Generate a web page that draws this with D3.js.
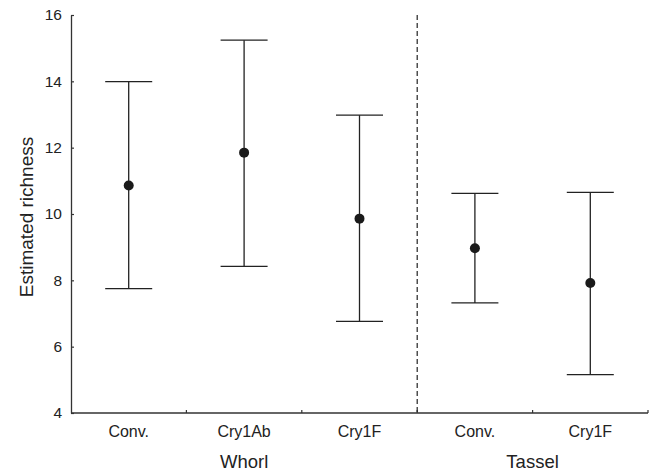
<!DOCTYPE html>
<html><head><meta charset="utf-8">
<script src="https://cdn.jsdelivr.net/npm/d3@7"></script>
<style>body{margin:0;background:#fff}</style>
</head><body>
<svg id="c" width="660" height="473"></svg>
<script>
const categories = ["Conv.", "Cry1Ab", "Cry1F", "Conv.", "Cry1F"];
const groups = ["Whorl", "Whorl", "Whorl", "Tassel", "Tassel"];
const means = [10.86, 11.85, 9.86, 8.97, 7.92];
const upper = [13.99, 15.24, 12.98, 10.62, 10.65];
const lower = [7.75, 8.42, 6.76, 7.32, 5.16];
const yTicks = [4, 6, 8, 10, 12, 14, 16];

const svg = d3.select("#c");
const m = {left: 71, right: 648, top: 15, bottom: 413};
const font = "Liberation Sans, Arial, Helvetica, sans-serif";
const ids = categories.map((d, i) => i);
const x = d3.scaleBand().domain(ids).range([m.left, m.right]);
const y = d3.scaleLinear().domain([4, 16]).range([m.bottom, m.top]);
const ink = "#222";

// y axis
const ya = svg.append("g").attr("transform", `translate(${m.left},0)`)
  .call(d3.axisLeft(y).tickValues(yTicks).tickSizeInner(-3).tickSizeOuter(0).tickPadding(9));
ya.select(".domain").attr("stroke", "#333").attr("stroke-width", 1.3);
ya.selectAll(".tick line").attr("stroke", "#333").attr("stroke-width", 1.2);
ya.selectAll("text").attr("font-family", font).attr("font-size", 15.5).attr("fill", ink);

// x axis with boundary ticks
const xa = svg.append("g").attr("transform", `translate(0,${m.bottom})`);
xa.append("line").attr("x1", m.left).attr("x2", m.right).attr("stroke", "#333").attr("stroke-width", 1.3);
const bounds = ids.slice(1).map(i => x(i)).concat([m.right]);
xa.selectAll(".bt").data(bounds).join("line")
  .attr("x1", d => d).attr("x2", d => d).attr("y1", 0).attr("y2", -3)
  .attr("stroke", "#333").attr("stroke-width", 1.2);
xa.selectAll(".cl").data(ids).join("text")
  .attr("x", i => x(i) + x.bandwidth() / 2).attr("y", 24)
  .attr("text-anchor", "middle").attr("font-family", font).attr("font-size", 16)
  .attr("fill", ink).text(i => categories[i]);

// group labels
const gnames = Array.from(new Set(groups));
gnames.forEach(g => {
  const idx = ids.filter(i => groups[i] === g);
  const cx = (x(idx[0]) + x(idx[idx.length - 1]) + x.bandwidth()) / 2;
  svg.append("text").attr("x", cx).attr("y", 467.5).attr("text-anchor", "middle")
    .attr("font-family", font).attr("font-size", 18.5).attr("fill", ink).text(g);
});

// y label
svg.append("text").attr("transform", `translate(33,217) rotate(-90)`)
  .attr("text-anchor", "middle").attr("font-family", font).attr("font-size", 19)
  .attr("fill", ink).text("Estimated richness");

// dashed separator
const sepI = ids.find(i => i > 0 && groups[i] !== groups[i - 1]);
svg.append("line").attr("x1", x(sepI)).attr("x2", x(sepI)).attr("y1", m.top).attr("y2", m.bottom)
  .attr("stroke", ink).attr("stroke-width", 1.2).attr("stroke-dasharray", "5,3");

// error bars
const cw = 23.5;
const eb = svg.append("g");
ids.forEach(i => {
  const cx = x(i) + x.bandwidth() / 2;
  eb.append("line").attr("x1", cx).attr("x2", cx).attr("y1", y(upper[i])).attr("y2", y(lower[i]))
    .attr("stroke", ink).attr("stroke-width", 1.3);
  [upper[i], lower[i]].forEach(v => {
    eb.append("line").attr("x1", cx - cw).attr("x2", cx + cw).attr("y1", y(v)).attr("y2", y(v))
      .attr("stroke", ink).attr("stroke-width", 1.3);
  });
  eb.append("circle").attr("cx", cx).attr("cy", y(means[i])).attr("r", 5).attr("fill", "#1a1a1a");
});
</script>
</body></html>
